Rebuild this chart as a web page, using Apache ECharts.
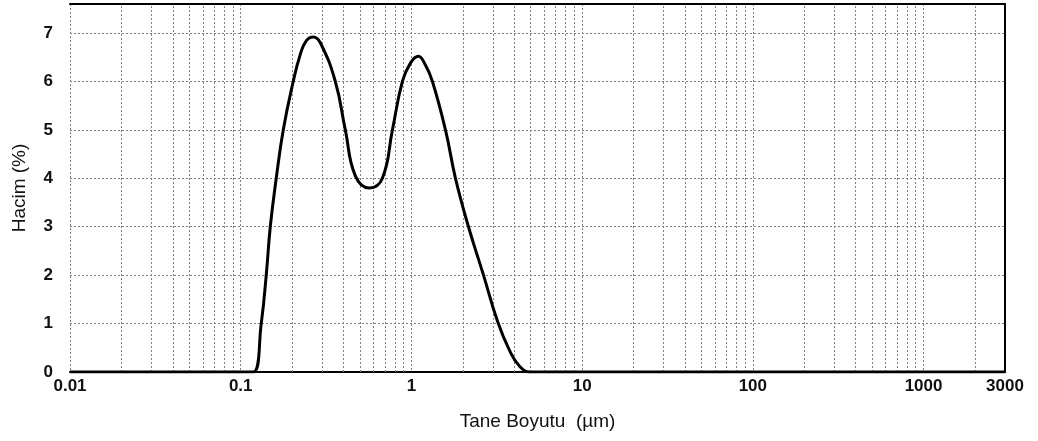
<!DOCTYPE html>
<html>
<head>
<meta charset="utf-8">
<script src="https://cdn.jsdelivr.net/npm/echarts@6/dist/echarts.min.js"></script>
<style>html,body{margin:0;padding:0;background:#fff;}#c{width:1038px;height:441px;}</style>
</head>
<body>
<div id="c"></div>
<script>
// Particle size (µm) and volume (%)
var sizes = [0.01, 0.1, 0.1184, 0.1319, 0.1411, 0.149, 0.1615, 0.1775, 0.2031, 0.2234, 0.242, 0.2662, 0.2926, 0.3583, 0.41, 0.4694, 0.5672, 0.676, 0.7739, 0.8855, 0.9865, 1.099, 1.208, 1.328, 1.583, 1.812, 2.159, 2.644, 3.194, 3.75, 4.3, 4.95, 10, 100, 1000, 3000];
var volume = [0, 0, 0, 1.0, 2.0, 3.0, 4.0, 5.0, 6.0, 6.56, 6.84, 6.92, 6.8, 6.0, 5.0, 4.05, 3.8, 4.0, 5.0, 6.0, 6.38, 6.52, 6.34, 6.0, 5.0, 4.0, 3.0, 2.0, 1.05, 0.45, 0.12, 0, 0, 0, 0, 0];
var xTickLabels = ['0.01', '0.1', '1', '10', '100', '1000', '3000'];
var yTicks = [0, 1, 2, 3, 4, 5, 6, 7];

var pairs = sizes.map(function (s, i) { return [s, volume[i]]; });

var minorLines = [];
[0.01, 0.1, 1, 10, 100, 1000].forEach(function (d) {
  for (var k = 2; k <= 9; k++) {
    var v = +(d * k).toPrecision(6);
    if (v < 3000) minorLines.push({ xAxis: v });
  }
});

var font = 'Liberation Sans, Arial, sans-serif';
var gridColor = '#808080';
var chart = echarts.init(document.getElementById('c'), null, { renderer: 'canvas' });
chart.setOption({
  backgroundColor: '#ffffff',
  animation: false,
  grid: { left: 70, right: 33, top: 4, bottom: 69, show: false },
  xAxis: [{
    type: 'log',
    logBase: 10,
    min: 0.01,
    max: 3000,
    name: 'Tane Boyutu  (µm)',
    nameLocation: 'middle',
    nameGap: 40,
    nameTextStyle: { fontFamily: font, fontSize: 19, color: '#111' },
    axisLine: { show: true, lineStyle: { color: '#000', width: 2 } },
    axisTick: { show: false },
    axisLabel: {
      margin: 6,
      fontFamily: font,
      fontSize: 17,
      fontWeight: 'bold',
      color: '#111',
      showMinLabel: true,
      showMaxLabel: true,
      formatter: function (v) {
        var s = String(+(+v).toPrecision(6));
        return xTickLabels.indexOf(s) >= 0 ? s : '';
      }
    },
    splitLine: { show: true, lineStyle: { color: gridColor, type: [2, 2], width: 1 } }
  }, {
    type: 'log',
    min: 0.01,
    max: 3000,
    position: 'top',
    axisLine: { show: true, onZero: false, lineStyle: { color: '#000', width: 2 } },
    axisTick: { show: false },
    axisLabel: { show: false },
    splitLine: { show: false }
  }],
  yAxis: [{
    type: 'value',
    min: 0,
    max: 7.6,
    interval: 1,
    name: 'Hacim (%)',
    nameLocation: 'middle',
    nameGap: 41,
    nameRotate: 90,
    nameTextStyle: { fontFamily: font, fontSize: 19, color: '#111' },
    axisLine: { show: false },
    axisTick: { show: false },
    axisLabel: {
      margin: 17,
      fontFamily: font,
      fontSize: 17,
      fontWeight: 'bold',
      color: '#111',
      showMaxLabel: false,
      formatter: function (v) { return yTicks.indexOf(v) >= 0 ? String(v) : ''; }
    },
    splitLine: { show: true, lineStyle: { color: gridColor, type: [2, 2], width: 1 } }
  }, {
    type: 'value',
    min: 0,
    max: 7.6,
    interval: 1,
    position: 'right',
    axisLine: { show: true, lineStyle: { color: '#000', width: 2 } },
    axisTick: { show: false },
    axisLabel: { show: false },
    splitLine: { show: false }
  }],
  series: [{
    type: 'line',
    data: pairs,
    xAxisIndex: 0,
    yAxisIndex: 0,
    showSymbol: false,
    smooth: 0.45,
    lineStyle: { color: '#000', width: 3 },
    z: 5,
    markLine: {
      silent: true,
      symbol: 'none',
      label: { show: false },
      lineStyle: { color: gridColor, type: [2, 2], width: 1 },
      data: minorLines,
      z: 1
    }
  }]
});
</script>
</body>
</html>
